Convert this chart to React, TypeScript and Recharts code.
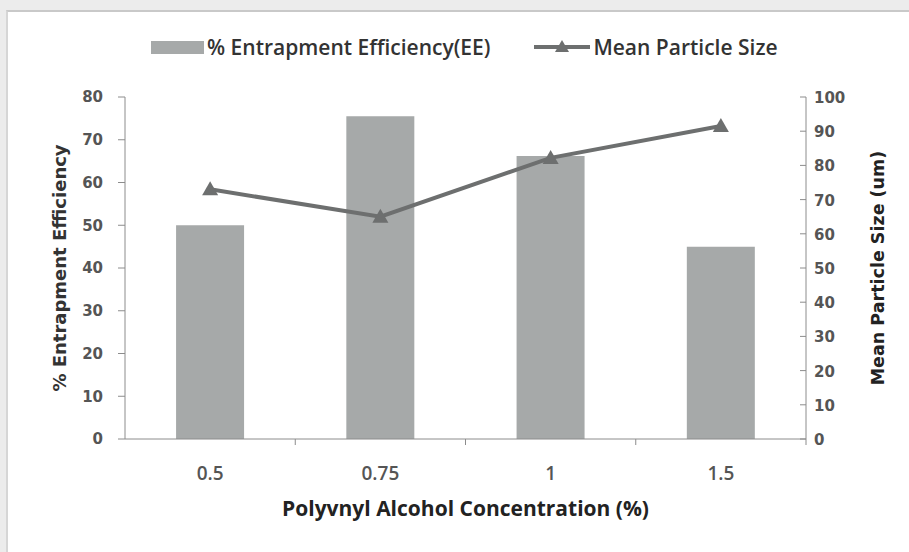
import React from "react";
import {
  Bar,
  CartesianGrid,
  ComposedChart,
  Legend,
  Line,
  XAxis,
  YAxis,
} from "recharts";

const concentrations = ["0.5", "0.75", "1", "1.5"];
const entrapmentEfficiency = [50, 75.5, 66.2, 45];
const meanParticleSize = [73, 65, 82.2, 91.5];
const leftTicks = [0, 10, 20, 30, 40, 50, 60, 70, 80];
const rightTicks = [0, 10, 20, 30, 40, 50, 60, 70, 80, 90, 100];

const data = concentrations.map((c, i) => ({
  conc: c,
  ee: entrapmentEfficiency[i],
  size: meanParticleSize[i],
}));

const W = 909;
const H = 552;
const PLOT_LEFT = 125;
const PLOT_RIGHT = 806;
const BAND = (PLOT_RIGHT - PLOT_LEFT) / concentrations.length;

const BAR_COLOR = "#a6a9a9";
const LINE_COLOR = "#6d6f6f";
const AXIS_COLOR = "#8c8c8c";
const TEXT_COLOR = "#555555";
const numFont = "DejaVu Sans, Verdana, sans-serif";
const narrowFont = "Open Sans, sans-serif";

function Triangle(props: any) {
  const { cx, cy, index } = props;
  if (cx == null || cy == null) return null;
  return (
    <path
      key={"tri" + index}
      d={`M${cx},${cy - 8} L${cx + 8},${cy + 6} L${cx - 8},${cy + 6} Z`}
      fill={LINE_COLOR}
    />
  );
}

function XTick(props: any) {
  const { x, y, payload } = props;
  const axisY = y - 10;
  return (
    <g>
      <line x1={x + BAND / 2} y1={axisY} x2={x + BAND / 2} y2={axisY + 6} stroke={AXIS_COLOR} />
      <text
        x={x}
        y={y + 31}
        textAnchor="middle"
        fill={TEXT_COLOR}
        fontFamily={narrowFont}
        fontWeight={600}
        fontSize={19}
      >
        {payload.value}
      </text>
    </g>
  );
}

function RightTick(props: any) {
  const { x, y, payload } = props;
  const axisX = x - 8;
  return (
    <g>
      <line x1={axisX - 6} y1={y} x2={axisX} y2={y} stroke={AXIS_COLOR} />
      <text
        x={x}
        y={y + 6}
        textAnchor="start"
        fill={TEXT_COLOR}
        fontFamily={numFont}
        fontWeight="bold"
        fontSize={15}
      >
        {payload.value}
      </text>
    </g>
  );
}

function LegendContent() {
  return (
    <div
      style={{
        display: "flex",
        alignItems: "center",
        fontFamily: narrowFont,
        fontWeight: 600,
        fontSize: 21,
        color: "#333",
        paddingLeft: 151,
        height: 24,
        whiteSpace: "nowrap",
      }}
    >
      <span style={{ width: 53, height: 13, background: BAR_COLOR, display: "inline-block" }} />
      <span style={{ marginLeft: 3 }}>% Entrapment Efficiency(EE)</span>
      <svg width={56} height={20} style={{ marginLeft: 44 }}>
        <line x1={0} y1={10} x2={56} y2={10} stroke={LINE_COLOR} strokeWidth={4} />
        <path d="M28,3 L35,15 L21,15 Z" fill={LINE_COLOR} />
      </svg>
      <span style={{ marginLeft: 3 }}>Mean Particle Size</span>
    </div>
  );
}

export default function App() {
  return (
    <div
      style={{
        position: "absolute",
        left: 0,
        top: 0,
        width: W,
        height: H,
        background: "#ececec",
        overflow: "hidden",
      }}
    >
      <div
        style={{
          position: "absolute",
          left: 6,
          top: 10,
          width: W,
          height: H,
          background: "#ffffff",
          borderTop: "2px solid #c9c9c9",
          borderLeft: "2px solid #d6d6d6",
        }}
      />
      <div style={{ position: "absolute", left: 0, top: 0 }}>
        <ComposedChart
          width={W}
          height={H}
          data={data}
          margin={{ top: 73, right: 20, bottom: 33, left: 49 }}
          barCategoryGap="30%"
        >
          <CartesianGrid stroke="none" />
          <Legend
            verticalAlign="top"
            align="left"
            content={<LegendContent />}
            wrapperStyle={{ top: 35, left: 0, width: W }}
          />
          <XAxis
            dataKey="conc"
            axisLine={{ stroke: AXIS_COLOR }}
            tickLine={false}
            tickSize={0}
            tickMargin={10}
            tick={<XTick />}
            height={80}
            interval={0}
            label={{
              value: "Polyvnyl Alcohol Concentration (%)",
              position: "insideBottom",
              offset: 3,
              style: {
                fontFamily: narrowFont,
                fontSize: 21,
                fontWeight: "bold",
                fill: "#222",
              },
            }}
          />
          <YAxis
            yAxisId="left"
            orientation="left"
            width={76}
            domain={[0, 80]}
            ticks={leftTicks}
            interval={0}
            axisLine={{ stroke: AXIS_COLOR }}
            tickLine={{ stroke: AXIS_COLOR }}
            tickSize={7}
            tickMargin={15}
            tick={{ fill: TEXT_COLOR, fontFamily: numFont, fontSize: 15, fontWeight: "bold" }}
            label={{
              value: "% Entrapment Efficiency",
              angle: -90,
              position: "insideLeft",
              offset: 11,
              style: {
                textAnchor: "middle",
                fontFamily: numFont,
                fontSize: 18,
                fontWeight: "bold",
                fill: "#333",
              },
            }}
          />
          <YAxis
            yAxisId="right"
            orientation="right"
            width={83}
            domain={[0, 100]}
            ticks={rightTicks}
            interval={0}
            axisLine={{ stroke: AXIS_COLOR }}
            tickLine={false}
            tickSize={0}
            tickMargin={8}
            tick={<RightTick />}
            label={{
              value: "Mean Particle Size (um)",
              angle: -90,
              position: "insideRight",
              offset: 11,
              style: {
                textAnchor: "middle",
                fontFamily: numFont,
                fontSize: 17.5,
                fontWeight: "bold",
                fill: "#222",
              },
            }}
          />
          <Bar
            yAxisId="left"
            dataKey="ee"
            name="% Entrapment Efficiency(EE)"
            fill={BAR_COLOR}
            isAnimationActive={false}
          />
          <Line
            yAxisId="right"
            dataKey="size"
            name="Mean Particle Size"
            stroke={LINE_COLOR}
            strokeWidth={4}
            dot={<Triangle />}
            activeDot={false}
            isAnimationActive={false}
          />
        </ComposedChart>
      </div>
    </div>
  );
}
